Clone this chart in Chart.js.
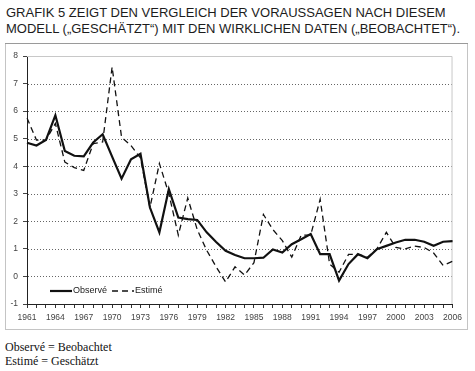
<!DOCTYPE html>
<html>
<head>
<meta charset="utf-8">
<script src="https://cdn.jsdelivr.net/npm/chart.js@4"></script>
<style>
    body { margin: 0; background: #fff; width: 475px; height: 371px; position: relative; overflow: hidden; }
    .title { position: absolute; left: 6px; font-family: "Liberation Sans", Arial, sans-serif; font-size: 13px; color: #1c1c1c; white-space: nowrap; }
    .rule { position: absolute; left: 5px; top: 43px; width: 463px; height: 0; border-top: 1px solid #9a9a9a; }
    #box { position: absolute; left: 5px; top: 44px; width: 461px; height: 285px; border: 1px solid #c4c4c4; border-top: none; }
    .note { position: absolute; left: 5px; font-family: "Liberation Serif", "Times New Roman", serif; font-size: 12px; color: #111; white-space: nowrap; }
</style>
</head>
<body>
<div class="title" style="top:5px">GRAFIK 5 ZEIGT DEN VERGLEICH DER VORAUSSAGEN NACH DIESEM</div>
<div class="title" style="top:21px">MODELL („GESCHÄTZT“) MIT DEN WIRKLICHEN DATEN („BEOBACHTET“).</div>
<div class="rule"></div>
<div id="box"><canvas id="chart" width="461" height="285"></canvas></div>
<div class="note" style="top:340px">Observé = Beobachtet</div>
<div class="note" style="top:354px">Estimé = Geschätzt</div>
<script>
const years = ['1961', '1962', '1963', '1964', '1965', '1966', '1967', '1968', '1969', '1970',
    '1971', '1972', '1973', '1974', '1975', '1976', '1977', '1978', '1979', '1980',
    '1981', '1982', '1983', '1984', '1985', '1986', '1987', '1988', '1989', '1990',
    '1991', '1992', '1993', '1994', '1995', '1996', '1997', '1998', '1999', '2000',
    '2001', '2002', '2003', '2004', '2005', '2006'];

// Observé (solid)
const observe = [4.85, 4.75, 4.95, 5.85, 4.55, 4.38, 4.36, 4.86, 5.16, 4.35,
    3.55, 4.25, 4.45, 2.5, 1.6, 3.17, 2.14, 2.08, 2.05, 1.6,
    1.25, 0.93, 0.78, 0.66, 0.66, 0.68, 0.98, 0.87, 1.17, 1.35,
    1.54, 0.81, 0.81, -0.15, 0.45, 0.81, 0.66, 0.99, 1.11, 1.23,
    1.33, 1.33, 1.26, 1.11, 1.26, 1.28];

// Estimé (dashed)
const estime = [5.75, 4.95, 4.95, 5.55, 4.15, 3.95, 3.85, 4.82, 4.88, 7.6,
    5.05, 4.75, 4.3, 2.5, 4.1, 3.0, 1.5, 2.85, 1.7, 0.95,
    0.35, -0.2, 0.35, 0.05, 0.5, 2.25, 1.7, 1.3, 0.7, 1.5,
    1.5, 2.8, 0.45, 0.15, 0.8, 0.8, 0.7, 1.0, 1.6, 1.05,
    1.0, 1.1, 1.05, 0.85, 0.4, 0.55];

const seriesLabels = ['Observé', 'Estimé'];
const labelEvery = 3;

const axisFont = { family: '"Liberation Sans", Arial, sans-serif', size: 8.5 };

// plot area border (top / right), left and bottom are the axes
const plotBorder = {
    id: 'plotBorder',
    beforeDatasetsDraw(chart, args, options) {
        const { ctx, chartArea: { left, top, right, bottom } } = chart;
        ctx.save();
        ctx.strokeStyle = options.color;
        ctx.lineWidth = 1;
        ctx.beginPath();
        ctx.moveTo(left, top + 0.5);
        ctx.lineTo(right - 0.5, top + 0.5);
        ctx.lineTo(right - 0.5, bottom);
        ctx.stroke();
        ctx.restore();
    }
};

// dotted horizontal grid lines at the integer values
const dottedGrid = {
    id: 'dottedGrid',
    beforeDatasetsDraw(chart, args, options) {
        const { ctx, chartArea: { left, right }, scales: { y } } = chart;
        ctx.save();
        ctx.strokeStyle = options.color;
        ctx.lineWidth = 1;
        ctx.setLineDash(options.dash);
        y.ticks.forEach(t => {
            if (t.value <= y.min || t.value >= y.max) return;
            const py = Math.round(y.getPixelForValue(t.value)) + 0.5;
            ctx.beginPath();
            ctx.moveTo(left + 1, py);
            ctx.lineTo(right - 1, py);
            ctx.stroke();
        });
        ctx.restore();
    }
};

// legend drawn inside the plot, lower left
const insideLegend = {
    id: 'insideLegend',
    afterDraw(chart, args, options) {
        const { ctx } = chart;
        let x = chart.chartArea.left + options.offsetX;
        const y = chart.chartArea.bottom - options.offsetY;
        ctx.save();
        ctx.font = '9px "Liberation Sans", Arial, sans-serif';
        ctx.textBaseline = 'middle';
        ctx.fillStyle = '#222';
        chart.data.datasets.forEach(ds => {
            ctx.strokeStyle = ds.borderColor;
            ctx.lineWidth = ds.borderWidth;
            ctx.setLineDash(ds.borderDash || []);
            ctx.beginPath();
            ctx.moveTo(x, y);
            ctx.lineTo(x + options.lineLength, y);
            ctx.stroke();
            ctx.setLineDash([]);
            ctx.fillText(ds.label, x + options.lineLength + 1, y);
            x += options.lineLength + 1 + ctx.measureText(ds.label).width + options.gap;
        });
        ctx.restore();
    }
};

const ctx = document.getElementById('chart').getContext('2d');

new Chart(ctx, {
    type: 'line',
    data: {
        labels: years,
        datasets: [{
            label: seriesLabels[0],
            data: observe,
            borderColor: '#111',
            borderWidth: 2.2,
            pointRadius: 0,
            tension: 0
        },
        {
            label: seriesLabels[1],
            data: estime,
            borderColor: '#111',
            borderWidth: 1.3,
            borderDash: [6, 4],
            pointRadius: 0,
            tension: 0
        }]
    },
    options: {
        responsive: false,
        animation: false,
        devicePixelRatio: 1,
        layout: {
            padding: { left: 0, right: 5, top: 12, bottom: 1 }
        },
        scales: {
            x: {
                offset: false,
                afterFit: scale => { scale.height = 24; },
                grid: {
                    drawOnChartArea: false,
                    tickLength: 4,
                    tickColor: '#333'
                },
                border: { color: '#222', width: 1 },
                ticks: {
                    autoSkip: false,
                    maxRotation: 0,
                    padding: 5,
                    color: '#444',
                    font: axisFont,
                    callback: function (value, index) {
                        return index % labelEvery === 0 ? this.getLabelForValue(value) : '';
                    }
                }
            },
            y: {
                min: -1,
                max: 8,
                afterFit: scale => { scale.width = 21; },
                grid: {
                    drawOnChartArea: false,
                    tickLength: 4,
                    tickColor: '#444'
                },
                border: { color: '#222', width: 1 },
                ticks: {
                    stepSize: 1,
                    padding: 5,
                    color: '#444',
                    font: axisFont
                }
            }
        },
        plugins: {
            legend: { display: false },
            tooltip: { enabled: false },
            plotBorder: { color: '#c8c8c8' },
            dottedGrid: { color: '#666', dash: [1, 2] },
            insideLegend: { offsetX: 23, offsetY: 13, lineLength: 22, gap: 5 }
        }
    },
    plugins: [plotBorder, dottedGrid, insideLegend]
});
</script>
</body>
</html>
